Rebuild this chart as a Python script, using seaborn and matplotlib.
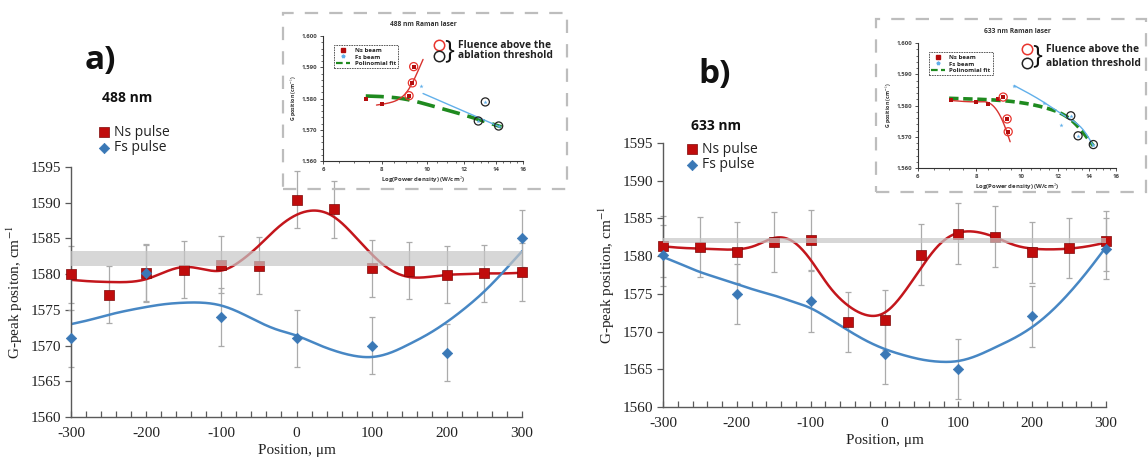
import numpy as np
import matplotlib
matplotlib.use("Agg")
import matplotlib.pyplot as plt
import matplotlib.ticker as mticker
from matplotlib.lines import Line2D
from matplotlib.patches import Rectangle
import seaborn as sns

# ---- main panels: G-peak position along the scan (um) ----
pos_ns = [-300, -250, -200, -150, -100, -50, 0, 50, 100, 150, 200, 250, 300]
pos_fs = [-300, -200, -100, 0, 100, 200, 300]
pos_fit = list(range(-300, 301, 25))
err = 4.0

ns_488 = [1580.0, 1577.1, 1580.2, 1580.6, 1581.3, 1581.2, 1590.4, 1589.1, 1580.8, 1580.5, 1579.9, 1580.1, 1580.3]
fs_488 = [1571.0, 1580.1, 1574.0, 1571.0, 1570.0, 1569.0, 1585.0]
ns_488_fit = [1579.2, 1579.0, 1578.9, 1578.9, 1579.3, 1580.3, 1581.0, 1580.7, 1580.5, 1581.8, 1584.0, 1586.5,
              1588.3, 1588.9, 1588.0, 1585.6, 1582.8, 1580.6, 1579.6, 1579.6, 1579.9, 1580.0, 1580.1, 1580.1, 1580.2]
fs_488_fit = [1573.0, 1573.6, 1574.3, 1574.9, 1575.4, 1575.8, 1576.0, 1576.0, 1575.6, 1574.6, 1573.3, 1572.2,
              1571.4, 1570.3, 1569.3, 1568.6, 1568.4, 1569.0, 1570.2, 1571.6, 1573.3, 1575.3, 1577.6, 1580.3, 1583.2]
band_488 = [1581.1, 1583.2]

ns_633 = [1581.3, 1581.2, 1580.5, 1581.9, 1582.1, 1571.3, 1571.5, 1580.2, 1583.0, 1582.6, 1580.5, 1581.1, 1582.0]
fs_633 = [1580.1, 1575.0, 1574.0, 1567.0, 1565.0, 1572.0, 1581.0]
ns_633_fit = [1581.3, 1581.1, 1581.0, 1580.9, 1580.9, 1581.4, 1582.4, 1582.0, 1579.5, 1576.0, 1573.5, 1572.2,
              1572.5, 1575.0, 1578.5, 1581.6, 1583.1, 1583.2, 1582.5, 1581.5, 1581.0, 1580.9, 1581.0, 1581.3, 1581.8]
fs_633_fit = [1579.9, 1578.9, 1577.9, 1577.1, 1576.3, 1575.5, 1574.8, 1574.0, 1573.1, 1571.7, 1570.2, 1568.8,
              1567.7, 1566.9, 1566.3, 1566.0, 1566.1, 1566.8, 1567.9, 1569.1, 1570.6, 1572.6, 1575.1, 1578.0, 1581.2]
band_633 = [1581.8, 1582.4]

# ---- insets: G position vs log(power density) ----
a_ns_x = [7.4, 8.0, 9.15, 9.3, 9.36]
a_ns_y = [1580.0, 1578.2, 1580.9, 1585.0, 1590.2]
a_fs_x = [9.7, 12.85, 13.3, 14.2]
a_fs_y = [1584.0, 1572.8, 1578.9, 1571.2]
a_nsfit_x = [7.8, 8.3, 8.75, 9.05, 9.4, 9.65, 9.8]
a_nsfit_y = [1577.9, 1578.6, 1580.0, 1582.1, 1586.4, 1590.2, 1592.5]
a_fsfit_x = [9.8, 14.3]
a_fsfit_y = [1581.6, 1570.9]
a_poly_x = [7.4, 9.05, 10.1, 12.0, 14.4]
a_poly_y = [1580.8, 1579.7, 1577.9, 1574.7, 1570.9]
a_red_ring = [2, 3, 4]
a_black_ring = [1, 2, 3]

b_ns_x = [7.08, 8.0, 8.48, 8.91, 9.15, 9.33, 9.38]
b_ns_y = [1581.8, 1581.2, 1580.5, 1582.1, 1582.7, 1575.7, 1571.6]
b_fs_x = [9.66, 11.2, 12.2, 12.79, 13.26, 14.3]
b_fs_y = [1586.4, 1580.7, 1573.7, 1576.7, 1570.3, 1567.5]
b_nsfit_x = [7.08, 8.1, 8.56, 8.91, 9.23, 9.47]
b_nsfit_y = [1581.6, 1581.2, 1580.7, 1578.0, 1573.2, 1568.4]
b_fsfit_x = [9.66, 11.2, 12.5, 13.7, 14.3]
b_fsfit_y = [1586.4, 1581.0, 1576.4, 1571.6, 1567.1]
b_poly_x = [7.0, 8.1, 10.0, 11.5, 12.9, 14.3]
b_poly_y = [1582.3, 1582.0, 1580.9, 1578.9, 1575.0, 1567.1]
b_red_ring = [4, 5, 6]
b_black_ring = [3, 4, 5]

RED = "#c00c0c"
RED_LINE = "#c3161c"
BLUE = "#3a78b6"
BLUE_LINE = "#4787c4"
ERR_C = "#ababab"
SANS = ["Open Sans", "DejaVu Sans"]
SERIF = ["Liberation Serif", "DejaVu Serif"]


def spline(x, y, num=400, logx=False):
    """Natural cubic spline through the read-off curve knots, for drawing."""
    x = np.log10(x) if logx else np.asarray(x, float)
    y = np.asarray(y, float)
    n = len(x)
    h = np.diff(x)
    A = np.zeros((n, n))
    r = np.zeros(n)
    A[0, 0] = A[-1, -1] = 1
    for i in range(1, n - 1):
        A[i, i - 1], A[i, i], A[i, i + 1] = h[i - 1], 2 * (h[i - 1] + h[i]), h[i]
        r[i] = 6 * ((y[i + 1] - y[i]) / h[i] - (y[i] - y[i - 1]) / h[i - 1])
    m = np.linalg.solve(A, r)
    xs = np.linspace(x[0], x[-1], num)
    k = np.clip(np.searchsorted(x, xs) - 1, 0, n - 2)
    a, b, hk = x[k + 1] - xs, xs - x[k], h[k]
    ys = ((m[k] * a ** 3 + m[k + 1] * b ** 3) / (6 * hk)
          + (y[k] / hk - m[k] * hk / 6) * a + (y[k + 1] / hk - m[k + 1] * hk / 6) * b)
    return (10 ** xs if logx else xs), ys


def draw_main(ax, ns, fs, ns_fit, fs_fit, band, ylabel):
    ax.errorbar(pos_ns, ns, yerr=err, fmt="none", ecolor=ERR_C, elinewidth=0.9,
                capsize=2.2, capthick=0.9, zorder=1, clip_on=False)
    ax.errorbar(pos_fs, fs, yerr=err, fmt="none", ecolor=ERR_C, elinewidth=0.9,
                capsize=2.2, capthick=0.9, zorder=1, clip_on=False)
    x, y = spline(pos_fit, ns_fit)
    sns.lineplot(x=x, y=y, color=RED_LINE, linewidth=1.8, ax=ax, zorder=2)
    x, y = spline(pos_fit, fs_fit)
    sns.lineplot(x=x, y=y, color=BLUE_LINE, linewidth=1.8, ax=ax, zorder=2)
    sns.scatterplot(x=pos_ns, y=ns, marker="s", s=62, color=RED, edgecolor="#7e0808",
                    linewidth=0.5, ax=ax, zorder=4, label="Ns pulse", clip_on=False)
    sns.scatterplot(x=pos_fs, y=fs, marker="D", s=28, color=BLUE, edgecolor=BLUE,
                    linewidth=0.5, ax=ax, zorder=4, label="Fs pulse", clip_on=False)
    ax.axhspan(band[0], band[1], color="#c6c6c6", alpha=0.7, lw=0, zorder=5)

    ax.set_xlim(-300, 300)
    ax.set_ylim(1560, 1595)
    ax.xaxis.set_major_locator(mticker.MultipleLocator(100))
    ax.xaxis.set_minor_locator(mticker.MultipleLocator(20))
    ax.yaxis.set_major_locator(mticker.MultipleLocator(5))
    for s in ["top", "right"]:
        ax.spines[s].set_visible(False)
    for s in ["left", "bottom"]:
        ax.spines[s].set_color("#5a5a5a")
        ax.spines[s].set_linewidth(1.0)
    ax.tick_params(axis="x", which="both", bottom=True, direction="in", length=4, width=0.9,
                   color="#5a5a5a", pad=7)
    ax.tick_params(axis="y", which="major", left=True, direction="out", length=4, width=0.9,
                   color="#5a5a5a", pad=3)
    ax.tick_params(labelsize=11, labelcolor="#222222")
    for t in ax.get_xticklabels() + ax.get_yticklabels():
        t.set_family(SERIF)
    ax.set_xlabel("Position, \u03bcm", family=SERIF, fontsize=11, color="#222222", labelpad=3)
    ax.set_ylabel(ylabel, family=SERIF, fontsize=11, color="#222222", labelpad=4)


def draw_inset(ax, title, ns_x, ns_y, fs_x, fs_y, nsfit, fsfit, poly, red_ring, black_ring, dash):
    ax.set_facecolor("none")
    ax.set_xscale("log")
    x, y = spline(poly[0], poly[1], logx=True)
    sns.lineplot(x=x, y=y, color="#1f8a1f", linewidth=2.6, ax=ax, zorder=2).lines[-1].set_dashes(dash)
    x, y = spline(nsfit[0], nsfit[1], logx=True)
    sns.lineplot(x=x, y=y, color="#d8332f", linewidth=1.0, ax=ax, zorder=3)
    x, y = spline(fsfit[0], fsfit[1], logx=True)
    sns.lineplot(x=x, y=y, color="#62b0ea", linewidth=1.0, ax=ax, zorder=3)
    sns.scatterplot(x=ns_x, y=ns_y, marker="s", s=7, color="#b30d0d", linewidth=0, ax=ax, zorder=4)
    sns.scatterplot(x=fs_x, y=fs_y, marker="*", s=10, color="#62b0ea", linewidth=0, ax=ax, zorder=4)
    ax.scatter([ns_x[i] for i in red_ring], [ns_y[i] for i in red_ring], s=34, facecolor="none",
               edgecolor="#e8352e", linewidth=0.9, zorder=5)
    ax.scatter([fs_x[i] for i in black_ring], [fs_y[i] for i in black_ring], s=34, facecolor="none",
               edgecolor="#222222", linewidth=0.9, zorder=5)

    ax.set_xlim(6, 16)
    ax.set_ylim(1560, 1600)
    ax.xaxis.set_major_locator(mticker.FixedLocator([6, 8, 10, 12, 14, 16]))
    ax.xaxis.set_major_formatter(mticker.FuncFormatter(lambda v, p: f"{v:g}"))
    ax.xaxis.set_minor_locator(mticker.FixedLocator([6.5, 7, 7.5, 8.5, 9, 9.5, 10.5, 11, 11.5,
                                                     12.5, 13, 13.5, 14.5, 15, 15.5]))
    ax.xaxis.set_minor_formatter(mticker.NullFormatter())
    ax.yaxis.set_major_locator(mticker.MultipleLocator(10))
    ax.yaxis.set_minor_locator(mticker.MultipleLocator(2))
    ax.yaxis.set_major_formatter(mticker.FuncFormatter(lambda v, p: f"{v:,.0f}"))
    for s in ["top", "right"]:
        ax.spines[s].set_visible(False)
    for s in ["left", "bottom"]:
        ax.spines[s].set_color("#333333")
        ax.spines[s].set_linewidth(0.8)
    ax.tick_params(which="major", bottom=True, left=True, length=2.5, width=0.6, pad=1.5, labelsize=4.3,
                   color="#333333", labelcolor="#444444")
    ax.tick_params(which="minor", bottom=True, left=True, length=1.4, width=0.5, color="#333333")
    for t in ax.get_xticklabels() + ax.get_yticklabels():
        t.set_fontweight("bold")
    ax.set_title(title, fontsize=4.8, fontweight="bold", color="#333333", pad=7)
    ax.set_xlabel("Log(Power density) (W/cm$^2$)", fontsize=4.3, fontweight="bold", color="#333333",
                  labelpad=2)
    ax.set_ylabel("G position (cm$^{-1}$)", fontsize=3.8, fontweight="bold", color="#333333", labelpad=2)
    handles = [Line2D([], [], marker="s", ls="", ms=2.2, color="#b30d0d", label="Ns beam"),
               Line2D([], [], marker="*", ls="", ms=2.6, color="#62b0ea", label="Fs beam"),
               Line2D([], [], ls=(0, (3, 1.5)), lw=1.6, color="#1f8a1f", label="Polinomial fit")]
    leg = ax.legend(handles=handles, loc="upper left", bbox_to_anchor=(0.04, 0.95),
                    prop={"size": 4.4, "weight": "bold"}, fancybox=False, framealpha=1,
                    handlelength=2.2, handletextpad=0.8, labelspacing=0.25, borderpad=0.35)
    leg.get_frame().set_edgecolor("#444444")
    leg.get_frame().set_linewidth(0.6)
    leg.get_frame().set_linestyle((0, (2, 1)))


sns.set_theme(style="white")
plt.rcParams["font.family"] = SANS
plt.rcParams["mathtext.fontset"] = "stix"
plt.rcParams["axes.unicode_minus"] = False

W, H = 1148, 457
fig = plt.figure(figsize=(W / 100, H / 100), dpi=100)


def frac(l, t, r, b):
    return [l / W, 1 - b / H, (r - l) / W, (b - t) / H]


ax_a = fig.add_axes(frac(71, 167, 522, 417))
ax_b = fig.add_axes(frac(663, 143, 1106, 407))
draw_main(ax_a, ns_488, fs_488, ns_488_fit, fs_488_fit, band_488, "G-peak positon, cm$^{-1}$")
draw_main(ax_b, ns_633, fs_633, ns_633_fit, fs_633_fit, band_633, "G-peak position, cm$^{-1}$")

for ax, (lx, ly) in [(ax_a, (90, 140)), (ax_b, (678, 157))]:
    leg = ax.legend(loc="center left", bbox_to_anchor=(lx / W, 1 - ly / H), bbox_transform=fig.transFigure,
                    frameon=False, prop={"family": SANS, "size": 10}, handletextpad=0.1,
                    labelspacing=0.05, borderaxespad=0, handlelength=1.2)
    for t in leg.get_texts():
        t.set_color("#222222")

fig.text(100 / W, 1 - 60 / H, "a)", fontsize=24, fontweight="bold", ha="center", va="center", color="#111111")
fig.text(127 / W, 1 - 98 / H, "488 nm", fontsize=10, fontweight="bold", ha="center", va="center", color="#111111")
fig.text(715 / W, 1 - 75 / H, "b)", fontsize=24, fontweight="bold", ha="center", va="center", color="#111111")
fig.text(716 / W, 1 - 126 / H, "633 nm", fontsize=10, fontweight="bold", ha="center", va="center", color="#111111")

# insets in dashed boxes
for (l, t, r, b) in [(283, 13, 567, 189), (876, 19, 1146, 192)]:
    fig.add_artist(Rectangle((l / W, 1 - b / H), (r - l) / W, (b - t) / H, transform=fig.transFigure,
                             fill=False, edgecolor="#bdbdbd", linewidth=1.6, linestyle=(0, (6, 5))))

in_a = fig.add_axes(frac(323, 36, 523, 161))
in_b = fig.add_axes(frac(918, 43, 1116, 168))
draw_inset(in_a, "488 nm Raman laser", a_ns_x, a_ns_y, a_fs_x, a_fs_y, (a_nsfit_x, a_nsfit_y),
           (a_fsfit_x, a_fsfit_y), (a_poly_x, a_poly_y), a_red_ring, a_black_ring, (5, 2.2))
draw_inset(in_b, "633 nm Raman laser", b_ns_x, b_ns_y, b_fs_x, b_fs_y, (b_nsfit_x, b_nsfit_y),
           (b_fsfit_x, b_fsfit_y), (b_poly_x, b_poly_y), b_red_ring, b_black_ring, (2.6, 1.3))

# "fluence above the ablation threshold" key
for (cx, y1, y2) in [(439, 45, 56), (1027, 49, 63)]:
    fig.add_artist(Line2D([cx / W], [1 - y1 / H], marker="o", ms=7.5, mfc="none", mec="#e8352e", mew=1.1,
                          transform=fig.transFigure))
    fig.add_artist(Line2D([cx / W], [1 - y2 / H], marker="o", ms=7.5, mfc="none", mec="#222222", mew=1.1,
                          transform=fig.transFigure))
    ym = (y1 + y2) / 2
    fig.text((cx + 10) / W, 1 - ym / H, "}", fontsize=19, ha="center", va="center", color="#111111")
    fig.text((cx + 19) / W, 1 - y1 / H, "Fluence above the", fontsize=7.4, fontweight="bold",
             ha="left", va="center", color="#222222")
    fig.text((cx + 19) / W, 1 - y2 / H, "ablation threshold", fontsize=7.4, fontweight="bold",
             ha="left", va="center", color="#222222")

fig.savefig("out.png", dpi=100, facecolor="white")
